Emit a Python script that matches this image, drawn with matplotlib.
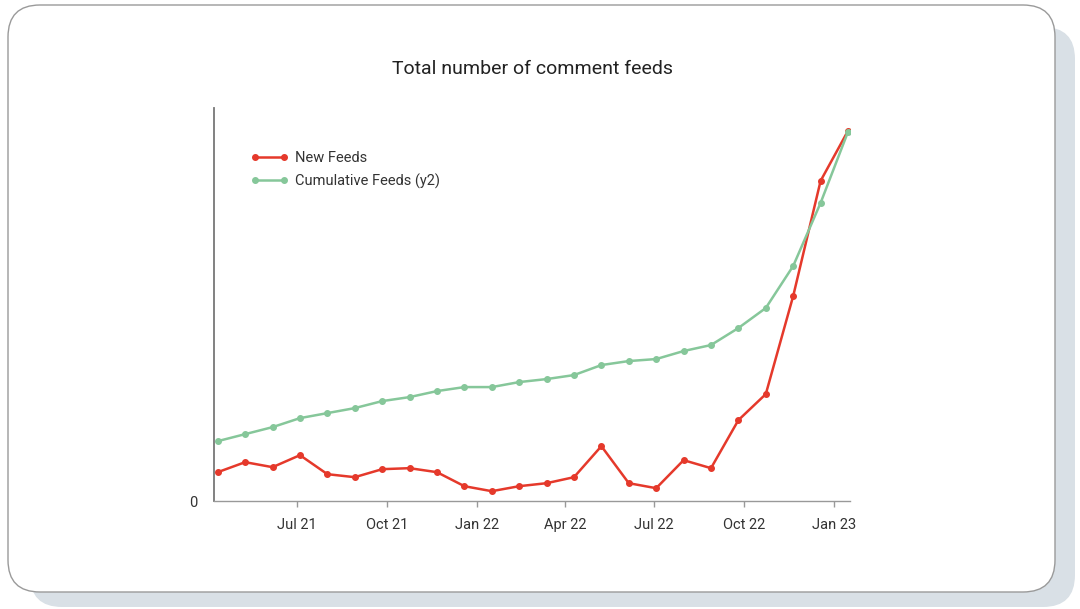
import matplotlib
matplotlib.use("Agg")
import matplotlib.pyplot as plt
import matplotlib.dates as mdates
from matplotlib.patches import FancyBboxPatch
import numpy as np

# four-weekly reporting periods
dates = np.array([
    "2021-04-11", "2021-05-09", "2021-06-06", "2021-07-04", "2021-08-01",
    "2021-08-29", "2021-09-26", "2021-10-24", "2021-11-21", "2021-12-19",
    "2022-01-16", "2022-02-13", "2022-03-13", "2022-04-10", "2022-05-08",
    "2022-06-05", "2022-07-03", "2022-07-31", "2022-08-28", "2022-09-25",
    "2022-10-23", "2022-11-20", "2022-12-18", "2023-01-15",
], dtype="datetime64[D]")

new_feeds = [29, 39, 34, 46, 27, 24, 32, 33, 29, 15, 10, 15,
             18, 24, 55, 18, 13, 41, 33, 81, 107, 205, 320, 370]

cumulative_feeds = [600, 670, 740, 830, 880, 930, 1000, 1040, 1100, 1140, 1140, 1190,
                    1220, 1260, 1360, 1400, 1420, 1500, 1560, 1730, 1930, 2350, 2980, 3690]

tick_dates = np.array(["2021-07-01", "2021-10-01", "2022-01-01", "2022-04-01",
                       "2022-07-01", "2022-10-01", "2023-01-01"], dtype="datetime64[D]")

RED = "#e5392b"
GREEN = "#86c79a"
FONT = ["Roboto", "DejaVu Sans"]

plt.rcParams["font.family"] = FONT

fig = plt.figure(figsize=(10.8, 6.09), dpi=100)
fig.patch.set_facecolor("white")

# card with a soft offset shadow behind it
shadow = FancyBboxPatch((0.30, 0.02), 10.45, 5.80,
                        boxstyle="round,pad=0,rounding_size=0.32",
                        transform=fig.dpi_scale_trans,
                        facecolor="#d9e0e6", edgecolor="none", zorder=0)
card = FancyBboxPatch((0.08, 0.17), 10.47, 5.87,
                      boxstyle="round,pad=0,rounding_size=0.32",
                      transform=fig.dpi_scale_trans,
                      facecolor="white", edgecolor="#9a9a9a", linewidth=1.0, zorder=1)
fig.patches.extend([shadow, card])

ax = fig.add_axes([0.198, 0.177, 0.589, 0.646])
ax.set_facecolor("none")
ax.set_zorder(3)
ax2 = ax.twinx()
ax2.set_zorder(4)
ax2.set_facecolor("none")

l1, = ax.plot(dates, new_feeds, color=RED, linewidth=1.8, marker="o",
              markersize=4, label="New Feeds", zorder=3)
l2, = ax2.plot(dates, cumulative_feeds, color=GREEN, linewidth=1.8, marker="o",
               markersize=4, label="Cumulative Feeds (y2)", zorder=2)

ax.set_xlim(np.datetime64("2021-04-07"), np.datetime64("2023-01-17"))
ax.set_ylim(0, 393)
ax2.set_ylim(0, 3930)

ax.set_xticks(tick_dates)
ax.xaxis.set_major_formatter(mdates.DateFormatter("%b %y"))
ax.tick_params(axis="x", length=4, width=1, color="#999999", pad=8,
               labelsize=10.5, labelcolor="#333333")
ax.set_yticks([0])
ax.tick_params(axis="y", length=0, pad=12, labelsize=10.5, labelcolor="#333333")
ax2.set_yticks([])

for s in ["top", "right"]:
    ax.spines[s].set_visible(False)
ax.spines["left"].set_color("#777777")
ax.spines["left"].set_linewidth(1.3)
ax.spines["bottom"].set_color("#999999")
ax.spines["bottom"].set_linewidth(1.0)
for s in ax2.spines.values():
    s.set_visible(False)

fig.text(0.493, 0.886, "Total number of comment feeds", ha="center", va="center",
         fontsize=14, color="#222222")

ax2.legend([l1, l2], ["New Feeds", "Cumulative Feeds (y2)"], loc="upper left",
           bbox_to_anchor=(0.046, 0.908), frameon=False, numpoints=2,
           handlelength=2.6, handletextpad=0.45, labelspacing=0.55,
           borderpad=0, fontsize=10.5, labelcolor="#333333")

fig.savefig("out.png", dpi=100)
